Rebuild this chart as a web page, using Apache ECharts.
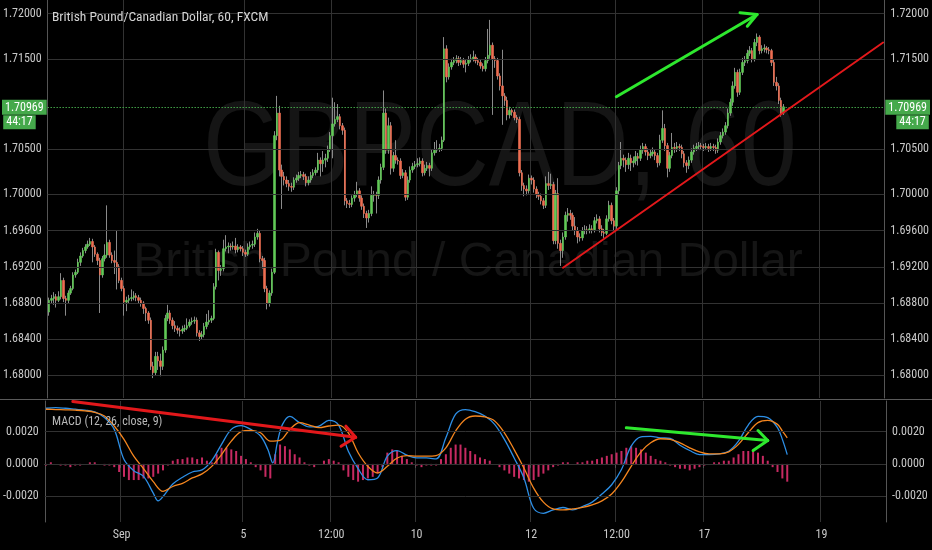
<!DOCTYPE html>
<html>
<head>
<meta charset="utf-8">
<script src="https://cdn.jsdelivr.net/npm/echarts/dist/echarts.min.js"></script>
<style>
  html, body { margin: 0; padding: 0; background: #000; }
  #chart { width: 932px; height: 550px; }
</style>
</head>
<body>
<div id="chart"></div>
<script>
// ---------------- data ----------------
const SLOTS = 345; // hourly slots on the time axis (incl. empty space on the right)
const tickIdx  = [31, 81, 117, 152, 199, 234, 270, 318];
const tickText = ['Sep', '5', '12:00', '10', '12', '12:00', '17', '19'];

const priceTicks = [1.680, 1.684, 1.688, 1.692, 1.696, 1.700, 1.705, 1.715, 1.720];
const macdTicks  = [-0.002, 0, 0.002];

const titleText  = 'British Pound/Canadian Dollar, 60, FXCM';
const macdTitle  = 'MACD (12, 26, close, 9)';
const watermark1 = 'GBPCAD, 60';
const watermark2 = 'British Pound / Canadian Dollar';
const lastPrice  = 1.70969;
const lastLabel  = '1.70969';
const countdown  = '44:17';

const opens = [
  1.6870,1.6883,1.6885,1.6887,1.6883,1.6887,1.6905,1.6885,1.6883,1.6891,
  1.6896,1.6911,1.6914,1.6925,1.6932,1.6938,1.6942,1.6945,1.6948,1.6942,
  1.6934,1.6927,1.6911,1.6929,1.6933,1.6947,1.6933,1.6927,1.6925,1.6920,
  1.6905,1.6896,1.6881,1.6883,1.6885,1.6886,1.6888,1.6886,1.6883,1.6880,
  1.6874,1.6869,1.6861,1.6810,1.6803,1.6821,1.6816,1.6810,1.6828,1.6863,
  1.6869,1.6861,1.6855,1.6852,1.6850,1.6849,1.6851,1.6852,1.6855,1.6859,
  1.6860,1.6861,1.6847,1.6843,1.6845,1.6854,1.6859,1.6861,1.6863,1.6898,
  1.6936,1.6916,1.6918,1.6940,1.6942,1.6943,1.6942,1.6943,1.6939,1.6942,
  1.6940,1.6936,1.6934,1.6942,1.6944,1.6945,1.6953,1.6957,1.6929,1.6927,
  1.6896,1.6880,1.6891,1.6914,1.7065,1.7090,1.7027,1.7020,1.7016,1.7012,
  1.7009,1.7008,1.7016,1.7018,1.7021,1.7022,1.7020,1.7013,1.7016,1.7021,
  1.7024,1.7027,1.7038,1.7034,1.7038,1.7040,1.7050,1.7065,1.7078,1.7083,
  1.7086,1.7076,1.7071,1.6993,1.6990,1.6989,1.6996,1.7000,1.7004,1.6996,
  1.6987,1.6979,1.6974,1.6979,1.6999,1.7000,1.6999,1.7016,1.7030,1.7090,
  1.7049,1.7076,1.7029,1.7043,1.7038,1.7037,1.7021,1.7024,1.6997,1.7016,
  1.7027,1.7031,1.7033,1.7034,1.7037,1.7024,1.7029,1.7032,1.7029,1.7046,
  1.7049,1.7050,1.7051,1.7060,1.7161,1.7130,1.7141,1.7146,1.7148,1.7150,
  1.7146,1.7148,1.7144,1.7145,1.7149,1.7150,1.7152,1.7148,1.7146,1.7142,
  1.7139,1.7148,1.7154,1.7165,1.7150,1.7148,1.7131,1.7120,1.7109,1.7104,
  1.7088,1.7093,1.7091,1.7085,1.7083,1.7024,1.7010,1.7006,1.7004,1.7018,
  1.7016,1.7006,1.7000,1.6998,1.6993,1.6988,1.7012,1.7010,1.7011,1.6949,
  1.7001,1.6946,1.6938,1.6953,1.6977,1.6979,1.6977,1.6965,1.6960,1.6953,
  1.6952,1.6960,1.6961,1.6960,1.6962,1.6961,1.6971,1.6973,1.6962,1.6958,
  1.6957,1.6973,1.6988,1.6971,1.6965,1.7004,1.7032,1.7040,1.7038,1.7033,
  1.7040,1.7035,1.7037,1.7042,1.7040,1.7049,1.7053,1.7047,1.7043,1.7045,
  1.7047,1.7043,1.7035,1.7060,1.7073,1.7054,1.7029,1.7043,1.7052,1.7051,
  1.7053,1.7052,1.7045,1.7035,1.7032,1.7038,1.7047,1.7051,1.7053,1.7054,
  1.7053,1.7052,1.7053,1.7051,1.7053,1.7052,1.7049,1.7058,1.7065,1.7069,
  1.7076,1.7090,1.7102,1.7120,1.7135,1.7113,1.7135,1.7146,1.7148,1.7156,
  1.7159,1.7150,1.7168,1.7174,1.7159,1.7161,1.7162,1.7160,1.7159,1.7146,
  1.7124,1.7120,1.7104,1.7090
];
const closes = [
  1.6883,1.6885,1.6887,1.6883,1.6887,1.6905,1.6885,1.6883,1.6891,1.6896,
  1.6911,1.6914,1.6925,1.6932,1.6938,1.6942,1.6945,1.6948,1.6942,1.6934,
  1.6927,1.6911,1.6929,1.6933,1.6947,1.6933,1.6927,1.6925,1.6920,1.6905,
  1.6896,1.6881,1.6883,1.6885,1.6886,1.6888,1.6886,1.6883,1.6880,1.6874,
  1.6869,1.6861,1.6810,1.6803,1.6821,1.6816,1.6810,1.6828,1.6863,1.6869,
  1.6861,1.6855,1.6852,1.6850,1.6849,1.6851,1.6852,1.6855,1.6859,1.6860,
  1.6861,1.6847,1.6843,1.6845,1.6854,1.6859,1.6861,1.6863,1.6898,1.6936,
  1.6916,1.6918,1.6940,1.6942,1.6943,1.6942,1.6943,1.6939,1.6942,1.6940,
  1.6936,1.6934,1.6942,1.6944,1.6945,1.6953,1.6957,1.6929,1.6927,1.6896,
  1.6880,1.6891,1.6914,1.7065,1.7090,1.7027,1.7020,1.7016,1.7012,1.7009,
  1.7008,1.7016,1.7018,1.7021,1.7022,1.7020,1.7013,1.7016,1.7021,1.7024,
  1.7027,1.7038,1.7034,1.7038,1.7040,1.7050,1.7065,1.7078,1.7083,1.7086,
  1.7076,1.7071,1.6993,1.6990,1.6989,1.6996,1.7000,1.7004,1.6996,1.6987,
  1.6979,1.6974,1.6979,1.6999,1.7000,1.6999,1.7016,1.7030,1.7090,1.7049,
  1.7076,1.7029,1.7043,1.7038,1.7037,1.7021,1.7024,1.6997,1.7016,1.7027,
  1.7031,1.7033,1.7034,1.7037,1.7024,1.7029,1.7032,1.7029,1.7046,1.7049,
  1.7050,1.7051,1.7060,1.7161,1.7130,1.7141,1.7146,1.7148,1.7150,1.7146,
  1.7148,1.7144,1.7145,1.7149,1.7150,1.7152,1.7148,1.7146,1.7142,1.7139,
  1.7148,1.7154,1.7165,1.7150,1.7148,1.7131,1.7120,1.7109,1.7104,1.7088,
  1.7093,1.7091,1.7085,1.7083,1.7024,1.7010,1.7006,1.7004,1.7018,1.7016,
  1.7006,1.7000,1.6998,1.6993,1.6988,1.7012,1.7010,1.7011,1.6949,1.7001,
  1.6946,1.6938,1.6953,1.6977,1.6979,1.6977,1.6965,1.6960,1.6953,1.6952,
  1.6960,1.6961,1.6960,1.6962,1.6961,1.6971,1.6973,1.6962,1.6958,1.6957,
  1.6973,1.6988,1.6971,1.6965,1.7004,1.7032,1.7040,1.7038,1.7033,1.7040,
  1.7035,1.7037,1.7042,1.7040,1.7049,1.7053,1.7047,1.7043,1.7045,1.7047,
  1.7043,1.7035,1.7060,1.7073,1.7054,1.7029,1.7043,1.7052,1.7051,1.7053,
  1.7052,1.7045,1.7035,1.7032,1.7038,1.7047,1.7051,1.7053,1.7054,1.7053,
  1.7052,1.7053,1.7051,1.7053,1.7052,1.7049,1.7058,1.7065,1.7069,1.7076,
  1.7090,1.7102,1.7120,1.7135,1.7113,1.7135,1.7146,1.7148,1.7156,1.7159,
  1.7150,1.7168,1.7174,1.7159,1.7161,1.7162,1.7160,1.7159,1.7146,1.7124,
  1.7120,1.7104,1.7090,1.70969
];
const highs = [
  1.6886,1.6889,1.6892,1.6890,1.6893,1.6913,1.6908,1.6888,1.6894,1.6899,
  1.6914,1.6917,1.6929,1.6936,1.6941,1.6945,1.6949,1.6952,1.6951,1.6944,
  1.6936,1.6930,1.6932,1.6945,1.6988,1.6950,1.6936,1.6938,1.6960,1.6923,
  1.6908,1.6899,1.6887,1.6889,1.6895,1.6893,1.6891,1.6889,1.6886,1.6882,
  1.6876,1.6871,1.6864,1.6815,1.6826,1.6826,1.6824,1.6832,1.6867,1.6878,
  1.6872,1.6864,1.6860,1.6855,1.6853,1.6855,1.6856,1.6863,1.6862,1.6864,
  1.6865,1.6864,1.6850,1.6849,1.6858,1.6868,1.6872,1.6866,1.6902,1.6940,
  1.6938,1.6922,1.6950,1.6955,1.6947,1.6946,1.6948,1.6952,1.6945,1.6944,
  1.6943,1.6939,1.6946,1.6948,1.6949,1.6958,1.6962,1.6960,1.6932,1.6930,
  1.6899,1.6894,1.6918,1.7070,1.7109,1.7098,1.7033,1.7025,1.7020,1.7016,
  1.7013,1.7019,1.7022,1.7025,1.7026,1.7025,1.7023,1.7020,1.7025,1.7028,
  1.7030,1.7046,1.7041,1.7048,1.7045,1.7054,1.7069,1.7107,1.7102,1.7100,
  1.7089,1.7079,1.7074,1.6996,1.6994,1.6999,1.7004,1.7014,1.7007,1.6999,
  1.6990,1.6982,1.6983,1.7009,1.7004,1.7003,1.7020,1.7034,1.7115,1.7095,
  1.7085,1.7080,1.7047,1.7060,1.7041,1.7040,1.7028,1.7027,1.7020,1.7031,
  1.7035,1.7037,1.7040,1.7041,1.7040,1.7033,1.7036,1.7035,1.7050,1.7058,
  1.7060,1.7056,1.7064,1.7174,1.7165,1.7145,1.7150,1.7152,1.7154,1.7153,
  1.7152,1.7151,1.7149,1.7153,1.7155,1.7159,1.7155,1.7151,1.7149,1.7145,
  1.7152,1.7183,1.7193,1.7168,1.7153,1.7151,1.7134,1.7160,1.7112,1.7108,
  1.7097,1.7095,1.7094,1.7088,1.7086,1.7027,1.7013,1.7010,1.7022,1.7021,
  1.7019,1.7009,1.7003,1.7001,1.6996,1.7020,1.7025,1.7023,1.7014,1.7005,
  1.7018,1.6950,1.6958,1.6981,1.6985,1.6983,1.6980,1.6975,1.6964,1.6957,
  1.6964,1.6966,1.6965,1.6967,1.6966,1.6975,1.6978,1.6976,1.6966,1.6962,
  1.6977,1.6993,1.6991,1.6974,1.7008,1.7036,1.7058,1.7044,1.7041,1.7046,
  1.7044,1.7042,1.7048,1.7046,1.7054,1.7057,1.7056,1.7051,1.7050,1.7052,
  1.7050,1.7046,1.7066,1.7093,1.7078,1.7057,1.7047,1.7068,1.7057,1.7058,
  1.7056,1.7055,1.7048,1.7038,1.7042,1.7051,1.7055,1.7057,1.7058,1.7057,
  1.7056,1.7057,1.7056,1.7057,1.7056,1.7055,1.7062,1.7069,1.7073,1.7080,
  1.7095,1.7106,1.7125,1.7140,1.7138,1.7139,1.7151,1.7153,1.7160,1.7164,
  1.7162,1.7172,1.7178,1.7176,1.7165,1.7166,1.7164,1.7163,1.7161,1.7149,
  1.7130,1.7123,1.7107,1.7100
];
const lows = [
  1.6866,1.6880,1.6878,1.6875,1.6881,1.6884,1.6881,1.6866,1.6880,1.6889,
  1.6894,1.6908,1.6912,1.6921,1.6930,1.6935,1.6940,1.6943,1.6925,1.6931,
  1.6922,1.6869,1.6908,1.6926,1.6930,1.6930,1.6924,1.6912,1.6895,1.6902,
  1.6893,1.6866,1.6871,1.6880,1.6882,1.6883,1.6882,1.6880,1.6876,1.6868,
  1.6860,1.6857,1.6806,1.6797,1.6800,1.6806,1.6799,1.6806,1.6825,1.6860,
  1.6857,1.6851,1.6848,1.6846,1.6843,1.6846,1.6848,1.6850,1.6853,1.6856,
  1.6857,1.6843,1.6838,1.6840,1.6842,1.6851,1.6856,1.6858,1.6861,1.6895,
  1.6905,1.6910,1.6915,1.6937,1.6935,1.6938,1.6939,1.6935,1.6936,1.6937,
  1.6932,1.6931,1.6932,1.6939,1.6940,1.6942,1.6950,1.6925,1.6918,1.6892,
  1.6873,1.6876,1.6888,1.6912,1.7060,1.7020,1.6984,1.7010,1.7008,1.7004,
  1.7003,1.7005,1.7013,1.7015,1.7018,1.7016,1.7009,1.7010,1.7013,1.7018,
  1.7021,1.7024,1.7020,1.7025,1.7030,1.7036,1.7047,1.7040,1.7075,1.7080,
  1.7072,1.7066,1.6988,1.6985,1.6985,1.6986,1.6992,1.6997,1.6992,1.6983,
  1.6974,1.6963,1.6969,1.6976,1.6992,1.6979,1.6995,1.7012,1.7027,1.7045,
  1.7045,1.7022,1.7025,1.7034,1.7033,1.7017,1.7018,1.6993,1.6994,1.7013,
  1.7024,1.7028,1.7030,1.7031,1.7020,1.7021,1.7026,1.7020,1.7026,1.7043,
  1.7046,1.7047,1.7048,1.7058,1.7124,1.7127,1.7138,1.7143,1.7145,1.7142,
  1.7143,1.7140,1.7135,1.7142,1.7146,1.7147,1.7145,1.7143,1.7139,1.7136,
  1.7136,1.7145,1.7150,1.7088,1.7140,1.7127,1.7115,1.7077,1.7098,1.7082,
  1.7084,1.7087,1.7082,1.7079,1.7020,1.7004,1.6998,1.6999,1.7001,1.7011,
  1.7002,1.6996,1.6994,1.6989,1.6984,1.6985,1.7005,1.7006,1.6945,1.6945,
  1.6940,1.6921,1.6930,1.6950,1.6970,1.6972,1.6960,1.6955,1.6946,1.6948,
  1.6949,1.6956,1.6956,1.6957,1.6957,1.6958,1.6968,1.6958,1.6954,1.6952,
  1.6955,1.6970,1.6967,1.6960,1.6962,1.7000,1.7028,1.7030,1.7025,1.7028,
  1.7026,1.7030,1.7033,1.7032,1.7037,1.7045,1.7043,1.7038,1.7040,1.7042,
  1.7038,1.7030,1.7032,1.7057,1.7048,1.7019,1.7025,1.7040,1.7046,1.7047,
  1.7048,1.7040,1.7030,1.7024,1.7028,1.7035,1.7044,1.7048,1.7050,1.7049,
  1.7048,1.7049,1.7047,1.7048,1.7048,1.7045,1.7046,1.7055,1.7062,1.7066,
  1.7073,1.7087,1.7098,1.7117,1.7108,1.7110,1.7132,1.7142,1.7145,1.7153,
  1.7146,1.7147,1.7164,1.7155,1.7156,1.7157,1.7156,1.7155,1.7142,1.7120,
  1.7115,1.7100,1.7086,1.7088
];

// MACD (blue) and signal (orange) lines: [bar index, value]
const macdLine = [
  [0,0.00345],[4,0.00349],[8,0.00345],[12,0.00339],[16,0.00333],[20,0.00322],[24,0.00287],[28,0.00214],
  [32,0.00027],[36,-0.00042],[40,-0.00077],[44,-0.00181],[46,-0.00229],[48,-0.00202],[52,-0.00125],[56,-0.00083],
  [60,-0.00050],[64,-0.00037],[68,0.00021],[72,0.00121],[76,0.00214],[80,0.00237],[84,0.00214],[88,0.00173],
  [91,0.00089],[93,0.00006],[95,0.00141],[97,0.00245],[100,0.00295],[104,0.00256],[108,0.00229],[112,0.00235],
  [116,0.00270],[120,0.00241],[124,0.00079],[128,-0.00029],[132,-0.00098],[136,-0.00087],[140,0.00048],[144,0.00083],
  [148,0.00054],[152,0.00037],[156,0.00037],[160,0.00031],[164,0.00162],[168,0.00308],[172,0.00337],[176,0.00324],
  [180,0.00297],[184,0.00245],[188,0.00152],[192,0.00037],[196,-0.00087],[200,-0.00275],[204,-0.00306],[208,-0.00285],
  [212,-0.00270],[216,-0.00285],[220,-0.00264],[224,-0.00237],[228,-0.00187],[232,-0.00129],[236,-0.00035],[240,0.00110],
  [244,0.00168],[248,0.00171],[252,0.00162],[256,0.00158],[260,0.00116],[264,0.00083],[268,0.00058],[272,0.00058],
  [276,0.00062],[280,0.00079],[284,0.00141],[288,0.00241],[292,0.00295],[296,0.00287],[300,0.00225],[302,0.00152],
  [304,0.00058]
];
const signalLine = [
  [0,0.00339],[4,0.00337],[8,0.00335],[12,0.00333],[16,0.00329],[20,0.00320],[24,0.00297],[28,0.00235],
  [32,0.00152],[36,0.00048],[40,-0.00029],[44,-0.00110],[48,-0.00170],[52,-0.00140],[56,-0.00120],[60,-0.00087],
  [64,-0.00062],[68,-0.00015],[72,0.00058],[76,0.00141],[80,0.00200],[84,0.00208],[88,0.00193],[92,0.00141],
  [96,0.00146],[100,0.00214],[104,0.00256],[108,0.00241],[112,0.00225],[116,0.00235],[120,0.00241],[124,0.00193],
  [128,0.00069],[132,-0.00015],[136,-0.00056],[140,-0.00015],[144,0.00037],[148,0.00052],[152,0.00048],[156,0.00048],
  [160,0.00052],[164,0.00100],[168,0.00204],[172,0.00277],[176,0.00297],[180,0.00291],[184,0.00266],[188,0.00193],
  [192,0.00089],[196,-0.00025],[200,-0.00150],[204,-0.00237],[208,-0.00279],[212,-0.00285],[216,-0.00279],[220,-0.00270],
  [224,-0.00254],[228,-0.00229],[232,-0.00187],[236,-0.00112],[240,-0.00015],[244,0.00075],[248,0.00131],[252,0.00156],
  [256,0.00152],[260,0.00131],[264,0.00100],[268,0.00075],[272,0.00062],[276,0.00062],[280,0.00075],[284,0.00121],
  [288,0.00193],[292,0.00256],[296,0.00270],[300,0.00245],[302,0.00204],[304,0.00162]
];
// histogram, one value every histStep bars starting at bar 0
const histStep = 2;
const histValues = [
  -0.0001,0.0001,0.0000,-0.0001,-0.0001,-0.0002,-0.0001,-0.0001,0.0000,0.0001,
  0.0001,0.0000,-0.0001,-0.0001,-0.0002,-0.0005,-0.0008,-0.0010,-0.0010,-0.0010,
  -0.0009,-0.0009,-0.0008,-0.0006,-0.0004,-0.0001,0.0002,0.0003,0.0003,0.0004,
  0.0004,0.0003,0.0004,0.0002,0.0001,0.0006,0.0010,0.0010,0.0009,0.0008,
  0.0005,0.0003,0.0001,-0.0002,-0.0004,-0.0008,-0.0009,0.0006,0.0012,0.0011,
  0.0009,0.0006,0.0004,0.0001,-0.0001,-0.0002,0.0000,0.0002,0.0003,0.0002,
  0.0001,-0.0004,-0.0008,-0.0010,-0.0011,-0.0010,-0.0009,-0.0008,-0.0006,-0.0002,
  0.0007,0.0009,0.0008,0.0005,0.0003,0.0001,-0.0001,-0.0002,-0.0001,-0.0001,
  -0.0001,0.0003,0.0006,0.0010,0.0012,0.0012,0.0010,0.0008,0.0006,0.0004,
  0.0003,0.0002,0.0000,-0.0002,-0.0004,-0.0006,-0.0008,-0.0009,-0.0010,-0.0011,
  -0.0010,-0.0008,-0.0006,-0.0004,-0.0002,-0.0001,0.0001,0.0001,0.0000,0.0001,
  0.0001,0.0002,0.0002,0.0003,0.0004,0.0005,0.0006,0.0007,0.0008,0.0010,
  0.0011,0.0010,0.0009,0.0007,0.0005,0.0003,0.0002,0.0001,-0.0001,-0.0002,
  -0.0003,-0.0003,-0.0004,-0.0003,-0.0002,-0.0001,0.0000,0.0001,0.0001,0.0002,
  0.0002,0.0004,0.0006,0.0008,0.0008,0.0008,0.0007,0.0005,0.0002,-0.0002,
  -0.0005,-0.0009,-0.0011
];

// hand-drawn annotations, in data coordinates [bar index, value]
const trendLine   = [[212, 1.6919], [344, 1.7168]];
const priceArrow  = { from: [234, 1.7108], tip: [292, 1.7199], heads: [[285, 1.7201], [288, 1.7186]] };
const macdArrowR  = { from: [11, 0.00387], tip: [127, 0.00165], heads: [[123, 0.00234], [121, 0.00109]] };
const macdArrowG  = { from: [238, 0.00224], tip: [296, 0.00145], heads: [[292, 0.00207], [290, 0.00083]] };

// ---------------- styles ----------------
const FONT = "'Liberation Sans Narrow', 'Roboto Condensed', 'Open Sans', sans-serif";
const TXT = '#c8c8c8';
const GRIDC = '#323232';
const AXISC = '#555555';
const UP = '#62c957', DOWN = '#ee6e52', WICK = '#8a8a8a';
const LASTC = '#45a94b';

const categories = Array.from({ length: SLOTS }, (_, i) => {
  const k = tickIdx.indexOf(i);
  return k >= 0 ? tickText[k] : '';
});
const isTick = (i) => tickIdx.indexOf(i) !== -1;
const candleRows = closes.map((c, i) => [opens[i], c, lows[i], highs[i]]);
const bodyRows = closes.map((c, i) => [opens[i], c, Math.min(opens[i], c), Math.max(opens[i], c)]);
const histData = histValues.map((v, k) => [k * histStep, v]);

const hLines = (vals, color) => ({
  silent: true, symbol: ['none', 'none'], label: { show: false }, animation: false, precision: 6,
  lineStyle: { color: color, width: 1, type: 'solid' },
  emphasis: { disabled: true },
  data: vals.map(v => ({ yAxis: v }))
});
const arrowSegs = (a) => [
  [{ coord: a.from }, { coord: a.tip }],
  [{ coord: a.heads[0] }, { coord: a.tip }],
  [{ coord: a.heads[1] }, { coord: a.tip }]
];
const styled = (segs, color, width) => segs.map(s => [
  Object.assign({ lineStyle: { color: color, width: width, type: 'solid', cap: 'round' } }, s[0]), s[1]
]);
const priceFmt = (v) => priceTicks.some(t => Math.abs(t - v) < 1e-7) ? v.toFixed(5) : '';
const macdFmt = (v) => {
  if (!macdTicks.some(t => Math.abs(t - v) < 1e-9)) return '';
  return Math.abs(v) < 1e-9 ? '0.0000' : v.toFixed(4);
};

const priceY = (pos) => ({
  type: 'value', gridIndex: 0, position: pos, min: 1.6775, max: 1.7215, interval: 0.0005,
  axisLine: { show: true, lineStyle: { color: AXISC } },
  axisTick: { show: false }, splitLine: { show: false },
  axisLabel: { formatter: priceFmt, color: TXT, fontSize: 12, fontFamily: FONT, margin: 6 }
});
const macdY = (pos) => ({
  type: 'value', gridIndex: 1, position: pos, min: -0.0036, max: 0.0039, interval: 0.0001,
  axisLine: { show: true, lineStyle: { color: AXISC } },
  axisTick: { show: false }, splitLine: { show: false },
  axisLabel: { formatter: macdFmt, color: TXT, fontSize: 12, fontFamily: FONT, margin: 6 }
});

const lastLabelStyle = {
  a: { backgroundColor: LASTC, color: '#fff', fontSize: 12, fontFamily: FONT, padding: [2, 3, 1, 3], lineHeight: 15 },
  b: { backgroundColor: LASTC, color: '#fff', fontSize: 12, fontFamily: FONT, padding: [1, 3, 1, 3], lineHeight: 15 },
  s: { width: 11, lineHeight: 15 }
};

const option = {
  backgroundColor: '#000',
  animation: false,
  title: [
    { text: titleText, left: 52, top: 11, padding: 0,
      textStyle: { color: '#d4d4d4', fontSize: 13.5, fontWeight: 'normal', fontFamily: FONT } },
    { text: macdTitle, left: 52, top: 416, padding: 0,
      textStyle: { color: '#b8b8b8', fontSize: 12, fontWeight: 'normal', fontFamily: FONT } }
  ],
  graphic: [
    { type: 'text', x: 500, y: 152, scaleX: 0.84, z: -10, silent: true,
      style: { text: watermark1, font: '120px "Liberation Sans", Arial, sans-serif', fill: '#151515', align: 'center', verticalAlign: 'middle' } },
    { type: 'text', x: 468, y: 263, z: -10, silent: true,
      style: { text: watermark2, font: '48px "Liberation Sans", Arial, sans-serif', fill: '#151515', align: 'center', verticalAlign: 'middle' } },
    { type: 'line', silent: true, z: 5, shape: { x1: 0, y1: 399.5, x2: 932, y2: 399.5 }, style: { stroke: '#5a5a5a', lineWidth: 1 } }
  ],
  grid: [
    { left: 43, right: 46, top: 0, height: 398 },
    { left: 43, right: 46, top: 401, height: 121 }
  ],
  xAxis: [
    { type: 'category', gridIndex: 0, data: categories, boundaryGap: true,
      axisLine: { show: false }, axisTick: { show: false }, axisLabel: { show: false },
      splitLine: { show: true, interval: isTick, lineStyle: { color: GRIDC } } },
    { type: 'category', gridIndex: 1, data: categories, boundaryGap: true,
      axisLine: { show: true, lineStyle: { color: AXISC } },
      axisTick: { show: true, interval: isTick, length: 4, lineStyle: { color: AXISC } },
      axisLabel: { interval: isTick, color: TXT, fontSize: 12, fontFamily: FONT, margin: 7 },
      splitLine: { show: true, interval: isTick, lineStyle: { color: GRIDC } } }
  ],
  yAxis: [priceY('left'), priceY('right'), macdY('left'), macdY('right')],
  series: [
    { type: 'line', name: 'priceGrid', xAxisIndex: 0, yAxisIndex: 0, data: [], z: 1,
      markLine: hLines(priceTicks, GRIDC) },
    { type: 'candlestick', name: 'wicks', xAxisIndex: 0, yAxisIndex: 0, data: candleRows,
      barWidth: 1, z: 3, silent: true,
      itemStyle: { color: WICK, color0: WICK, borderColor: WICK, borderColor0: WICK, borderWidth: 1 } },
    { type: 'candlestick', name: 'GBPCAD', xAxisIndex: 0, yAxisIndex: 0, data: bodyRows,
      barWidth: 2, z: 4, silent: true,
      itemStyle: { color: UP, color0: DOWN, borderColor: UP, borderColor0: DOWN, borderWidth: 0.6 },
      markLine: {
        silent: true, symbol: ['none', 'none'], animation: false, precision: 6,
        lineStyle: { color: LASTC, width: 1, type: [1, 2] },
        data: [
          { yAxis: lastPrice, label: { show: true, position: 'end', distance: 1, padding: [16, 0, 0, 0],
              formatter: '{a|' + lastLabel + '}\n{s|}{b|' + countdown + '}', rich: lastLabelStyle } },
          { yAxis: lastPrice, label: { show: true, position: 'start', distance: 1, padding: [16, 0, 0, 0],
              formatter: '{a|' + lastLabel + '}\n{b|' + countdown + '}{s|}', rich: lastLabelStyle } }
        ]
      } },
    { type: 'line', name: 'priceDrawings', xAxisIndex: 0, yAxisIndex: 0, data: [], z: 10,
      markLine: { silent: true, symbol: ['none', 'none'], animation: false, label: { show: false }, precision: 6,
        lineStyle: { type: 'solid' },
        data: styled([[{ coord: trendLine[0] }, { coord: trendLine[1] }]], '#e3181b', 2)
          .concat(styled(arrowSegs(priceArrow), '#2ee82e', 3))
      } },
    { type: 'line', name: 'macdGrid', xAxisIndex: 1, yAxisIndex: 2, data: [], z: 1,
      markLine: hLines(macdTicks, GRIDC) },
    { type: 'bar', name: 'Histogram', xAxisIndex: 1, yAxisIndex: 2, data: histData,
      barWidth: 2, z: 3, silent: true, itemStyle: { color: '#c72a62' } },
    { type: 'line', name: 'MACD', xAxisIndex: 1, yAxisIndex: 2, data: macdLine, z: 4,
      showSymbol: false, smooth: 0.35, silent: true, lineStyle: { color: '#2d8fe6', width: 1.3 } },
    { type: 'line', name: 'Signal', xAxisIndex: 1, yAxisIndex: 2, data: signalLine, z: 4,
      showSymbol: false, smooth: 0.35, silent: true, lineStyle: { color: '#f5861f', width: 1.3 } },
    { type: 'line', name: 'macdDrawings', xAxisIndex: 1, yAxisIndex: 2, data: [], z: 10,
      markLine: { silent: true, symbol: ['none', 'none'], animation: false, label: { show: false }, precision: 6,
        lineStyle: { type: 'solid' },
        data: styled(arrowSegs(macdArrowR), '#e3181b', 3).concat(styled(arrowSegs(macdArrowG), '#2ee82e', 3))
      } }
  ]
};

const chart = echarts.init(document.getElementById('chart'), null, { renderer: 'canvas', width: 932, height: 550 });
chart.setOption(option);
</script>
</body>
</html>
